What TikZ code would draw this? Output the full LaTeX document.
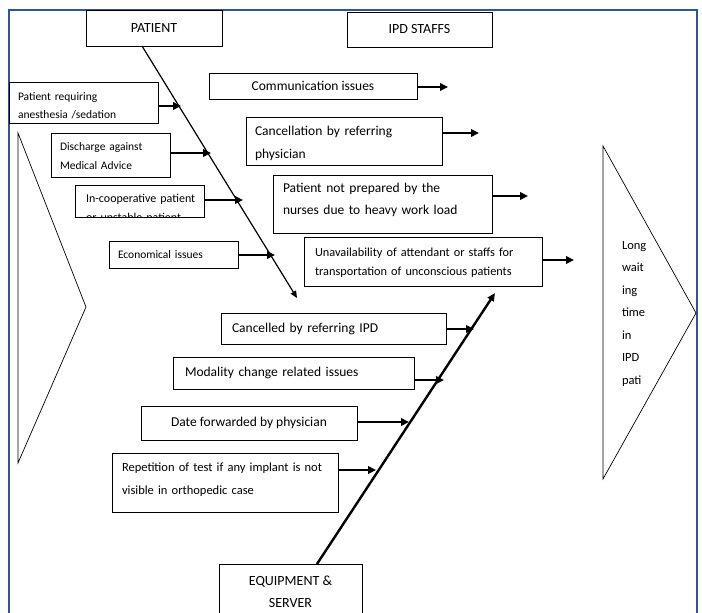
\documentclass[tikz,border=0pt]{standalone}
\usepackage{fontspec}
\setmainfont{Carlito}
\usetikzlibrary{arrows.meta}
\definecolor{framec}{RGB}{47,85,151}
\begin{document}
\begin{tikzpicture}[x=1pt,y=-1pt,
  box/.style={draw, line width=0.9pt, anchor=north west, inner sep=0pt, outer sep=0pt},
  cbox/.style={draw, line width=0.9pt, anchor=north west, inner sep=0pt, outer sep=0pt, align=center},
  txt/.style={anchor=base west, inner sep=0pt, outer sep=0pt, align=left, text width=300pt},
  big/.style={font=\fontsize{13.5}{22}\selectfont},
  head/.style={font=\fontsize{14}{22.5}\selectfont},
  arr/.style={line width=2.2pt, -{Triangle[length=8pt,width=7.5pt]}},
  tri/.style={draw, line width=0.7pt, line join=miter}
]
\useasboundingbox (0,0) rectangle (702,613);
\clip (0,0) rectangle (702,613);
% frame
\draw[framec, line width=1.6pt] (9,700) -- (9,10) -- (697,10) -- (697,700);
% triangles
\draw[tri] (18,133) -- (86,307) -- (18,463) -- cycle;
\draw[tri] (603,146) -- (696,313) -- (603,479) -- cycle;
\node[txt, font=\fontsize{12.5}{22.5}\selectfont] (effect) at (622,249) {Long\\wait\\ing\\time\\in\\IPD\\pati};
% category heads
\node[cbox, head, minimum width=136pt, minimum height=36pt] (patient) at (86,10) {PATIENT};
\node[cbox, head, minimum width=145pt, minimum height=35pt] (staff) at (347,12) {IPD STAFFS};
\node[cbox, head, minimum width=143pt, minimum height=56pt] (equip) at (219,564) {EQUIPMENT \&\\SERVER};
% spines
\coordinate (phead) at (297,298);
\draw[line width=1.2pt, -{Triangle[length=7pt,width=6pt]}] ([xshift=-12pt]patient.south) -- (phead);
\coordinate (ehead) at (495,293);
\draw[line width=2.4pt, -{Triangle[length=8pt,width=7pt]}] ([xshift=26.5pt]equip.north) -- (ehead);
% patient causes
\node[box, minimum width=149pt, minimum height=41pt] (preq) at (9,82) {};
\node[txt, font=\fontsize{11.5}{18}\selectfont] (preqtxt) at (18,100) {Patient requiring\\anesthesia /sedation};
\node[box, minimum width=119pt, minimum height=44pt] (disch) at (51,133) {};
\node[txt, font=\fontsize{11.5}{19}\selectfont] (dischtxt) at (60,150) {Discharge against\\Medical Advice};
\begin{scope}
\clip (75,185) rectangle (204,217);
\node[txt, font=\fontsize{12}{19.5}\selectfont] (incooptxt) at (86,202) {In-cooperative patient\\or unstable patient};
\end{scope}
\node[box, minimum width=129pt, minimum height=32pt] (incoop) at (75,185) {};
\node[box, minimum width=129pt, minimum height=27pt] (econ) at (109,241) {};
\node[txt, font=\fontsize{11.5}{18}\selectfont] (econtxt) at (118,258) {Economical issues};
% staff causes
\node[cbox, big, minimum width=208pt, minimum height=26pt] (comm) at (209,73) {Communication issues};
\begin{scope}
\clip (246,117) rectangle (442,160);
\node[txt, font=\fontsize{13.5}{23}\selectfont] (canctxt) at (255,135.5) {Cancellation by referring\\physician};
\end{scope}
\node[box, minimum width=196pt, minimum height=48pt] (canc) at (246,117) {};
\node[box, minimum width=219pt, minimum height=58pt] (notprep) at (273,175) {};
\node[txt, font=\fontsize{13.5}{22}\selectfont] (notpreptxt) at (283,192.5) {Patient not prepared by the\\nurses due to heavy work load};
\node[box, minimum width=238pt, minimum height=49pt] (unavail) at (304,237) {};
\node[txt, font=\fontsize{12.3}{19}\selectfont] (unavailtxt) at (315,256) {Unavailability of attendant or staffs for\\transportation of unconscious patients};
% equipment causes
\node[box, minimum width=225pt, minimum height=31pt] (cipd) at (221,313) {};
\node[txt, big] (cipdtxt) at (232,332) {Cancelled by referring IPD};
\node[box, minimum width=241pt, minimum height=32pt] (modal) at (173,357) {};
\node[txt, big] (modaltxt) at (185,376) {Modality change related issues};
\node[cbox, big, minimum width=216pt, minimum height=34pt] (date) at (141,406) {Date forwarded by physician};
\node[box, minimum width=226pt, minimum height=59pt] (rep) at (112,453) {};
\node[txt, font=\fontsize{12.5}{23}\selectfont] (reptxt) at (122,471) {Repetition of test if any implant is not\\visible in orthopedic case};
% arrow tips
\coordinate (t1) at (181,106);
\coordinate (t2) at (211,153);
\coordinate (t3) at (243,200);
\coordinate (t4) at (275,255);
\coordinate (t5) at (448,87);
\coordinate (t6) at (479,133);
\coordinate (t7) at (528,196);
\coordinate (t8) at (574,260);
\coordinate (t9) at (474,329);
\coordinate (t10) at (444,380);
\coordinate (t11) at (409,422);
\coordinate (t12) at (376,470);
\draw[arr] (preq.east |- t1) -- (t1);
\draw[arr] (disch.east |- t2) -- (t2);
\draw[arr] (incoop.east |- t3) -- (t3);
\draw[arr] (econ.east |- t4) -- (t4);
\draw[arr] (comm.east |- t5) -- (t5);
\draw[arr] (canc.east |- t6) -- (t6);
\draw[arr] (notprep.east |- t7) -- (t7);
\draw[arr] (unavail.east |- t8) -- (t8);
\draw[arr] (cipd.east |- t9) -- (t9);
\draw[arr] (modal.east |- t10) -- (t10);
\draw[arr] (date.east |- t11) -- (t11);
\draw[arr] (rep.east |- t12) -- (t12);
\end{tikzpicture}
\end{document}
